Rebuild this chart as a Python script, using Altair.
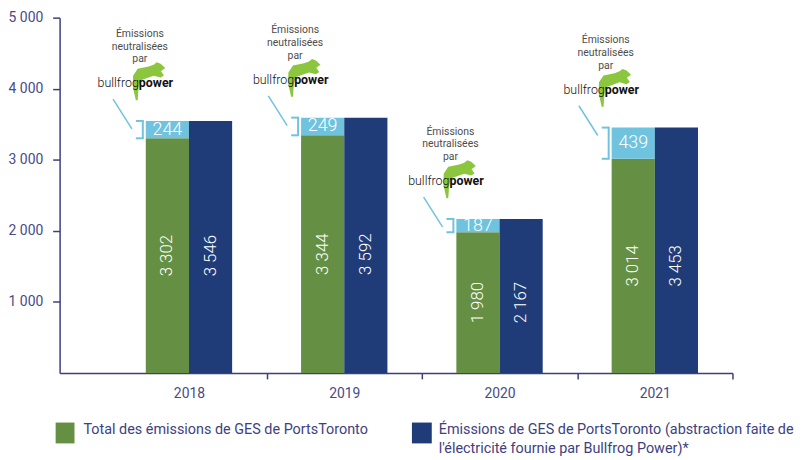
import altair as alt
import pandas as pd

# ---------------- data ----------------
years = ["2018", "2019", "2020", "2021"]
total_ges = [3302, 3344, 1980, 3014]          # Total des émissions (green)
neutralised = [244, 249, 187, 439]            # neutralisées par Bullfrog Power (light blue)
without_bullfrog = [3546, 3592, 2167, 3453]   # abstraction faite de Bullfrog (navy)

y_ticks = [1000, 2000, 3000, 4000, 5000]
legend_green = "Total des émissions de GES de PortsToronto"
legend_navy_1 = "Émissions de GES de PortsToronto (abstraction faite de"
legend_navy_2 = "l'électricité fournie par Bullfrog Power)*"
note_text = "Émissions\nneutralisées\npar"
logo_left = "bullfrog"
logo_right = "power"
title_text = "(EN TONNES D'ÉQ. CO2)"

# ---------------- styles ----------------
GREEN = "#658f42"
NAVY = "#1f3c78"
LBLUE = "#70c3de"
FROG = "#8cc63e"
AXC = "#3c3f7d"
LBC = "#474a86"
LEGC = "#3e4180"
FONT = "Roboto"

W, H = 678, 358
X_DOMAIN = [-0.833, 3.5]
PX_PER_UNIT = W / (X_DOMAIN[1] - X_DOMAIN[0])
HALF = 43.5 / PX_PER_UNIT

FROG_PATH = ("M -0.65 1.03 L -0.81 0.32 L -0.8 -0.3 L -0.55 -0.68 L 0.05 -0.8 "
             "L 0.32 -0.9 L 0.49 -1.03 L 0.7 -0.95 L 0.95 -0.72 L 0.72 -0.55 "
             "L 0.88 -0.32 L 0.7 -0.2 L 0.32 -0.3 L -0.11 -0.15 L -0.38 -0.05 "
             "L -0.5 0.32 L -0.55 1.03 Z")

df = pd.DataFrame({
    "year": years,
    "idx": list(range(len(years))),
    "total": total_ges,
    "neutral": neutralised,
    "excl": without_bullfrog,
})

xs = alt.Scale(domain=X_DOMAIN, nice=False, zero=False)
ys = alt.Scale(domain=[0, 5000], nice=False)

year_array = "[" + ",".join(f"'{y}'" for y in years) + "]"
x_axis = alt.Axis(
    values=list(range(len(years))), labelExpr=f"{year_array}[datum.value]",
    title=None, grid=False, domainColor=AXC, domainWidth=1.5, tickColor=AXC,
    tickWidth=1.5, tickSize=6, tickOffset=PX_PER_UNIT / 2, labelOffset=-PX_PER_UNIT / 2,
    labelColor=LBC, labelFont=FONT, labelFontSize=14, labelPadding=8,
)
y_axis = alt.Axis(
    values=y_ticks, labelExpr="replace(datum.label, ',', ' ')",
    title=None, grid=False, domainColor=AXC, domainWidth=1.5, tickColor=AXC,
    tickWidth=1.5, tickSize=7, labelColor=LBC, labelFont=FONT, labelFontSize=14,
    labelPadding=10,
)


def X(field):
    return alt.X(field, scale=xs, axis=x_axis)


def Y(field):
    return alt.Y(field, scale=ys, axis=y_axis)


base = alt.Chart(df).transform_calculate(
    gx0=f"datum.idx - {HALF}",
    gx1="datum.idx",
    nx1=f"datum.idx + {HALF}",
    gc=f"datum.idx - {HALF / 2}",
    nc=f"datum.idx + {HALF / 2}",
    top="datum.total + datum.neutral",
    gmid="datum.total / 2",
    lbmid="datum.total + datum.neutral / 2",
    total_lbl="replace(format(datum.total, ','), ',', ' ')",
    excl_lbl="replace(format(datum.excl, ','), ',', ' ')",
    neutral_lbl="format(datum.neutral, 'd')",
)

green = base.mark_rect(color=GREEN).encode(
    x=X("gx0:Q"), x2="gx1:Q", y=Y("total:Q"), y2=alt.datum(0),
)
lblue = base.mark_rect(color=LBLUE).encode(
    x=X("gx0:Q"), x2="gx1:Q", y=Y("top:Q"), y2="total:Q",
)
navy = base.mark_rect(color=NAVY).encode(
    x=X("gx1:Q"), x2="nx1:Q", y=Y("excl:Q"), y2=alt.datum(0),
)

txt_style = dict(color="white", font=FONT, fontSize=17, fontWeight=300)
green_lbl = base.mark_text(angle=270, align="center", baseline="middle", **txt_style).encode(
    x=X("gc:Q"), y=Y("gmid:Q"), text="total_lbl:N",
)
navy_lbl = base.mark_text(angle=270, align="center", baseline="middle", **txt_style).encode(
    x=X("nc:Q"), y=Y("gmid:Q"), text="excl_lbl:N",
)
lb_lbl = base.mark_text(align="center", baseline="middle", color="white", font=FONT,
                        fontSize=18, fontWeight=300).encode(
    x=X("gc:Q"), y=Y("lbmid:Q"), text="neutral_lbl:N",
)

# bracket and pointer
br_v = base.mark_rule(color=LBLUE, strokeWidth=2, xOffset=-3).encode(
    x=X("gx0:Q"), y=Y("top:Q"), y2="total:Q",
)
br_t = base.mark_rule(color=LBLUE, strokeWidth=2, xOffset=-10, x2Offset=-2).encode(
    x=X("gx0:Q"), x2="gx0:Q", y=Y("top:Q"),
)
br_b = base.mark_rule(color=LBLUE, strokeWidth=2, xOffset=-10, x2Offset=-2).encode(
    x=X("gx0:Q"), x2="gx0:Q", y=Y("total:Q"),
)
pointer = base.mark_rule(color=LBLUE, strokeWidth=1.5, xOffset=-33, yOffset=-22,
                         x2Offset=-14, y2Offset=8).encode(
    x=X("gx0:Q"), x2="gx0:Q", y=Y("top:Q"), y2="top:Q",
)

note = base.mark_text(lineBreak="\n", lineHeight=13, align="center", baseline="middle",
                      font=FONT, fontSize=10.5, color="#4d4d4d",
                      xOffset=-6, yOffset=-88).encode(
    x=X("gx0:Q"), y=Y("top:Q"), text=alt.value(note_text),
)
frog = base.mark_point(shape=FROG_PATH, filled=True, color=FROG, opacity=1, size=1369,
                       strokeWidth=0, xOffset=2, yOffset=-40).encode(
    x=X("gx0:Q"), y=Y("top:Q"),
)
logo_l = base.mark_text(align="right", baseline="middle", font=FONT, fontSize=12.5,
                        fontWeight=300, color="#111111", xOffset=-7, yOffset=-38).encode(
    x=X("gx0:Q"), y=Y("top:Q"), text=alt.value(logo_left),
)
logo_r = base.mark_text(align="left", baseline="middle", font=FONT, fontSize=12.5,
                        fontWeight="bold", color="#111111", xOffset=-7, yOffset=-38).encode(
    x=X("gx0:Q"), y=Y("top:Q"), text=alt.value(logo_right),
)

# legend (manual)
leg_df = pd.DataFrame({"a": [legend_green], "b1": [legend_navy_1], "b2": [legend_navy_2],
                       "t": [title_text]})
leg_base = alt.Chart(leg_df)
leg_g_rect = leg_base.mark_rect(color=GREEN).encode(
    x=alt.value(-4), x2=alt.value(15), y=alt.value(408), y2=alt.value(429))
leg_n_rect = leg_base.mark_rect(color=NAVY).encode(
    x=alt.value(355), x2=alt.value(375), y=alt.value(408), y2=alt.value(429))
leg_style = dict(align="left", baseline="middle", font=FONT, fontSize=14.5, color=LEGC)
leg_g_txt = leg_base.mark_text(**leg_style).encode(
    x=alt.value(24), y=alt.value(416), text="a:N")
leg_n_txt1 = leg_base.mark_text(**leg_style).encode(
    x=alt.value(382), y=alt.value(416), text="b1:N")
leg_n_txt2 = leg_base.mark_text(**leg_style).encode(
    x=alt.value(382), y=alt.value(435), text="b2:N")
title = leg_base.mark_text(align="center", baseline="alphabetic", font=FONT, fontSize=22,
                           color="#333333").encode(
    x=alt.value(354), y=alt.value(-22), text="t:N")

chart = alt.layer(
    green, lblue, navy, green_lbl, navy_lbl, lb_lbl,
    br_v, br_t, br_b, pointer, frog, note, logo_l, logo_r,
    leg_g_rect, leg_n_rect, leg_g_txt, leg_n_txt1, leg_n_txt2, title,
).properties(
    width=W, height=H,
    autosize=alt.AutoSizeParams(type="none"),
    padding={"left": 52, "top": 8, "right": 62, "bottom": 86},
).configure_view(stroke=None)

chart.save("out.html", embed_options={"renderer": "svg", "actions": False})
